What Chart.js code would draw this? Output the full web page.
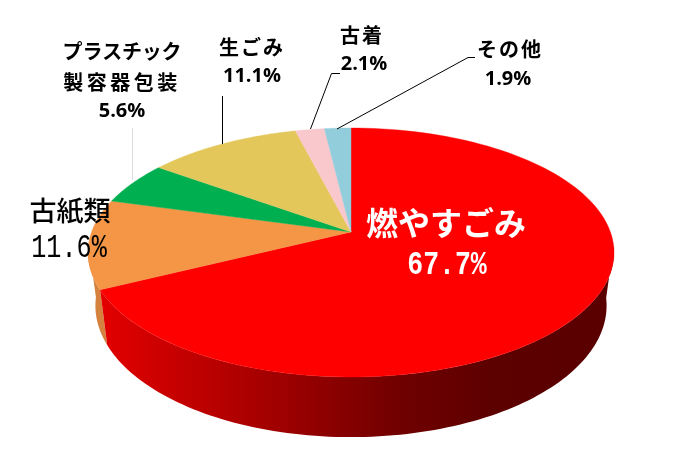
<!DOCTYPE html>
<html>
<head>
<meta charset="utf-8">
<style>
  html, body { margin: 0; padding: 0; background: #fff; }
  canvas { display: block; }
</style>
<script src="https://cdn.jsdelivr.net/npm/chart.js@4/dist/chart.umd.js"></script>
</head>
<body>
<canvas id="wasteChart" width="700" height="472"></canvas>
<script>
// Data
const categories = ['燃やすごみ', '古紙類', 'プラスチック製容器包装', '生ごみ', '古着', 'その他'];
const shares = [67.7, 11.6, 5.6, 11.1, 2.1, 1.9];
const sliceColors = ['#ff0000', '#f49646', '#00b050', '#e3c75a', '#f9c8cc', '#92cddc'];
const orangeWall = '#d5823e';

// The lid and the floor of the pie, seen in perspective
const tilt = -0.1647;
const lid = { x: 351, y: 232, rx: 259.4, ry: 121.1 };
const floor = { x: 351, y: 284, rx: 252.1, ry: 127.9 };

function project(face, angle) {
    const w = 1 + tilt * Math.sin(angle);
    return [face.x + face.rx * Math.cos(angle) / w, face.y + face.ry * Math.sin(angle) / w];
}

// Slices are drawn by the library's arc element, only bent through project()
const ArcElement = Chart.registry.getElement('arc');
ArcElement.prototype.draw = function(ctx) {
    ctx.save();
    ctx.beginPath();
    ctx.moveTo(lid.x, lid.y);
    const steps = 120;
    for (let i = 0; i <= steps; i++) {
        const p = project(lid, this.startAngle + (this.endAngle - this.startAngle) * i / steps);
        ctx.lineTo(p[0], p[1]);
    }
    ctx.closePath();
    ctx.fillStyle = this.options.backgroundColor;
    ctx.strokeStyle = this.options.backgroundColor;
    ctx.lineWidth = 0.4;
    ctx.fill();
    ctx.stroke();
    ctx.restore();
};

function wallGradient(ctx) {
    const g = ctx.createLinearGradient(98, 0, 610, 0);
    g.addColorStop(0, '#e40000');
    g.addColorStop(0.31, '#a80000');
    g.addColorStop(0.59, '#700000');
    g.addColorStop(0.78, '#5c0000');
    g.addColorStop(1, '#5a0000');
    return g;
}

// Only the part of the side that faces the viewer, as one shape
function drawWall(ctx, arc, fill) {
    const steps = 180;
    const angles = [];
    for (let i = 0; i <= steps; i++) {
        const a = arc.startAngle + (arc.endAngle - arc.startAngle) * i / steps;
        if (Math.sin(a) >= 0.1) angles.push(a);
    }
    const outline = angles.map(a => project(lid, a)).concat(angles.slice().reverse().map(a => project(floor, a)));
    ctx.beginPath();
    outline.forEach((p, i) => i ? ctx.lineTo(p[0], p[1]) : ctx.moveTo(p[0], p[1]));
    ctx.closePath();
    ctx.fillStyle = fill;
    ctx.fill();
}

function line(ctx, points, color) {
    ctx.beginPath();
    ctx.moveTo(points[0][0], points[0][1]);
    points.slice(1).forEach(p => ctx.lineTo(p[0], p[1]));
    ctx.strokeStyle = color;
    ctx.lineWidth = 1;
    ctx.stroke();
}

function label(ctx, text, x, y, font, color, spacing, squeeze) {
    ctx.save();
    ctx.translate(x, y);
    ctx.scale(squeeze || 1, 1);
    ctx.font = font;
    ctx.fillStyle = color;
    ctx.textAlign = 'center';
    ctx.textBaseline = 'middle';
    ctx.letterSpacing = (spacing || 0) + 'px';
    ctx.fillText(text, 0, 0);
    ctx.restore();
}

const pct = i => shares[i].toFixed(1) + '%';
const cjkBold = 'bold 20px "Noto Sans CJK JP"';
const numBold = 'bold 20px "Open Sans"';

const pie3d = {
    id: 'pie3d',
    beforeDatasetsDraw(chart) {
        const ctx = chart.ctx;
        const arcs = chart.getDatasetMeta(0).data;
        ctx.save();
        drawWall(ctx, arcs[1], orangeWall);
        drawWall(ctx, arcs[0], wallGradient(ctx));
        ctx.restore();
    },
    afterDatasetsDraw(chart) {
        const ctx = chart.ctx;
        ctx.save();
        // leader lines
        line(ctx, [[132.5, 128], [132.5, 180]], '#dcdcdc');
        line(ctx, [[222.5, 96], [222.5, 144]], '#000');
        line(ctx, [[310.5, 129], [331.5, 73.5], [340, 73.5]], '#000');
        line(ctx, [[337, 129], [468, 57.5], [475, 57.5]], '#000');

        label(ctx, categories[0], 446, 223, 'bold 32px "Noto Sans CJK JP"', '#fff');
        label(ctx, pct(0), 447, 265, 'bold 34px "Liberation Mono"', '#fff', 0, 0.78);
        label(ctx, categories[1], 70, 211, '500 27px "Noto Sans CJK JP"', '#000');
        label(ctx, pct(1), 69, 248, '34px "Liberation Mono"', '#000', 0, 0.74);

        label(ctx, categories[2].slice(0, 6), 122, 51, cjkBold, '#000', -0.2);
        label(ctx, categories[2].slice(6), 122, 82, cjkBold, '#000', 3.5);
        label(ctx, pct(2), 122, 111, numBold, '#000');
        label(ctx, categories[3], 252, 47, cjkBold, '#000', 2);
        label(ctx, pct(3), 252, 76, numBold, '#000');
        label(ctx, categories[4], 362, 35, cjkBold, '#000', 2);
        label(ctx, pct(4), 364, 64, numBold, '#000');
        label(ctx, categories[5], 510, 49, cjkBold, '#000', 2);
        label(ctx, pct(5), 508, 79, numBold, '#000');
        ctx.restore();
    }
};

new Chart(document.getElementById('wasteChart').getContext('2d'), {
    type: 'pie',
    data: {
        labels: categories,
        datasets: [{
            data: shares,
            backgroundColor: sliceColors,
            borderWidth: 0
        }]
    },
    options: {
        responsive: false,
        animation: false,
        plugins: {
            legend: { display: false },
            tooltip: { enabled: false }
        }
    },
    plugins: [pie3d]
});
</script>
</body>
</html>
